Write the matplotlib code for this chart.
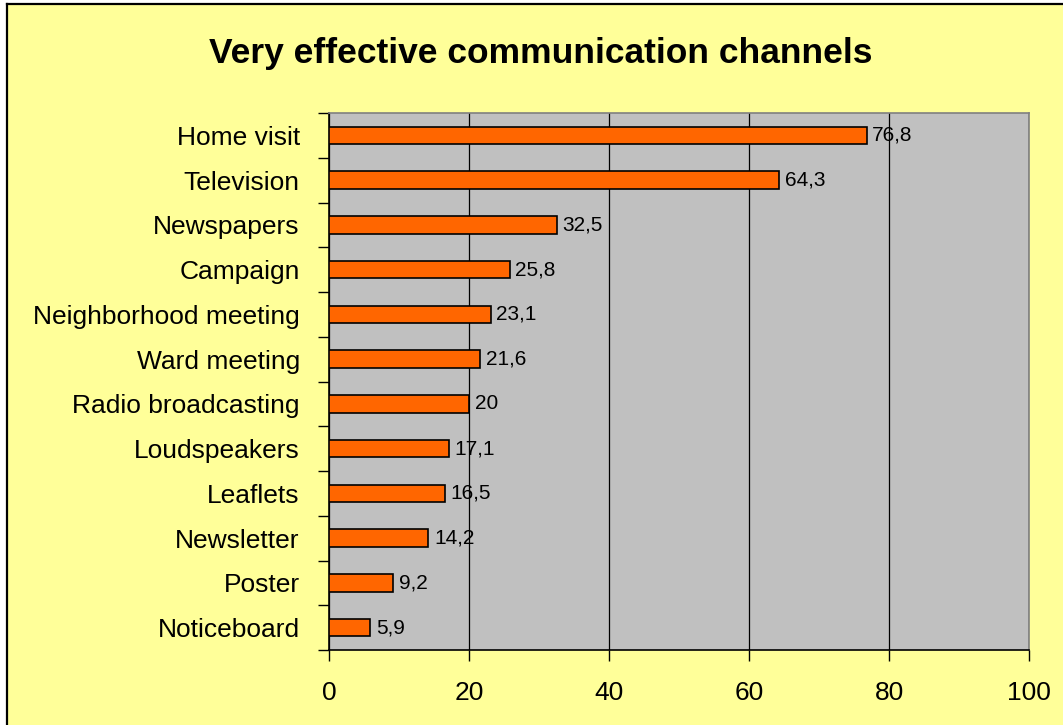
import matplotlib
matplotlib.use("Agg")
import matplotlib.pyplot as plt
from matplotlib.patches import Rectangle
from matplotlib.lines import Line2D
from matplotlib.ticker import FixedLocator

categories = ["Home visit", "Television", "Newspapers", "Campaign",
              "Neighborhood meeting", "Ward meeting", "Radio broadcasting",
              "Loudspeakers", "Leaflets", "Newsletter", "Poster", "Noticeboard"]
values = [76.8, 64.3, 32.5, 25.8, 23.1, 21.6, 20, 17.1, 16.5, 14.2, 9.2, 5.9]
x_ticks = [0, 20, 40, 60, 80, 100]

plt.rcParams["font.family"] = ["Liberation Sans", "DejaVu Sans"]

W, H = 1063, 725
fig = plt.figure(figsize=(W / 100, H / 100), dpi=100)
fig.patch.set_facecolor("white")

# chart area background with left/top border
fig.patches.append(Rectangle((6.5 / W, 0), 1, 1 - 4 / H, transform=fig.transFigure,
                             facecolor="#FFFF99", edgecolor="none", zorder=-10))
fig.lines.append(Line2D([6.5 / W, 6.5 / W], [0, 1 - 4 / H], transform=fig.transFigure,
                        color="black", lw=1.6))
fig.lines.append(Line2D([6.5 / W, 1], [1 - 4 / H, 1 - 4 / H], transform=fig.transFigure,
                        color="black", lw=1.6))

ax = fig.add_axes([329 / W, 1 - 650 / H, (1029 - 329) / W, (650 - 113) / H])
ax.set_facecolor("#C0C0C0")

n = len(categories)
ypos = list(range(n))
bars = ax.barh(ypos, values, height=0.39, color="#FF6600", edgecolor="black",
               linewidth=1.2, zorder=3)
ax.set_ylim(n - 0.5, -0.5)
ax.set_xlim(0, 100)

ax.set_yticks(ypos)
ax.set_yticklabels(categories, fontsize=19)
ax.tick_params(axis="y", which="major", length=0, pad=21)
ax.yaxis.set_minor_locator(FixedLocator([i - 0.5 for i in range(n + 1)]))
ax.tick_params(axis="y", which="minor", length=8, width=1, color="black")

ax.set_xticks(x_ticks)
ax.set_xticklabels([str(t) for t in x_ticks], fontsize=19)
ax.tick_params(axis="x", length=8, width=1, pad=14, color="black")

ax.grid(axis="x", color="black", linewidth=0.9, zorder=1)
ax.set_axisbelow(True)

for s in ["top", "right"]:
    ax.spines[s].set_color("#808080")
    ax.spines[s].set_linewidth(1.2)
for s in ["left", "bottom"]:
    ax.spines[s].set_color("black")
    ax.spines[s].set_linewidth(1.2)

for b, v in zip(bars, values):
    lab = ("%g" % v).replace(".", ",")
    ax.text(b.get_width() + 0.8, b.get_y() + b.get_height() / 2, lab,
            va="center", ha="left", fontsize=15, zorder=4)

fig.text(541 / W, 1 - 53 / H, "Very effective communication channels",
         ha="center", va="center", fontsize=25.5, fontweight="bold")

plt.savefig("out.png", dpi=100)
